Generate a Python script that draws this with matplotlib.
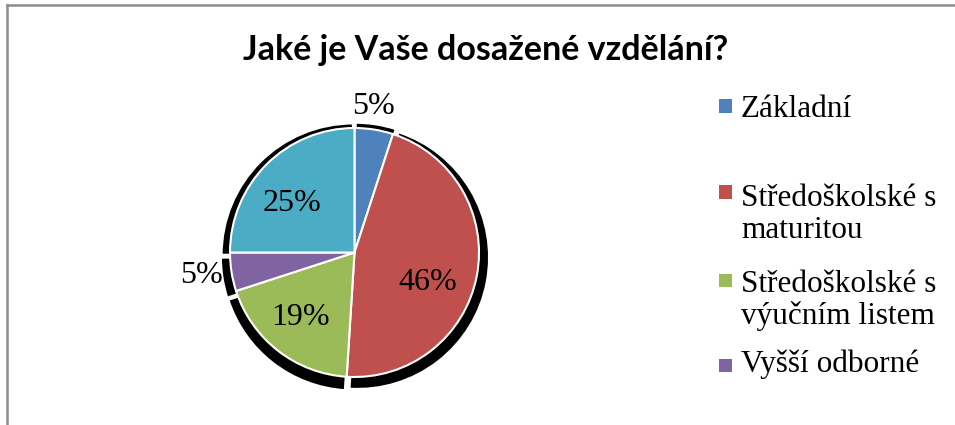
import numpy as np
import matplotlib
matplotlib.use("Agg")
import matplotlib.pyplot as plt
from matplotlib.patches import Wedge, Rectangle
from matplotlib.lines import Line2D

# ---- data ----
title = "Jaké je Vaše dosažené vzdělání?"
categories = ["Základní", "Středoškolské s maturitou", "Středoškolské s výučním listem",
              "Vyšší odborné", "Vysokoškolské"]
values = [5, 46, 19, 5, 25]
colors = ["#4F81BD", "#C0504D", "#9BBB59", "#8064A2", "#4BACC6"]
# legend lines as wrapped in the original (fifth entry is cut off by the frame)
legend_lines = [["Základní"], ["Středoškolské s", "maturitou"],
                ["Středoškolské s", "výučním listem"], ["Vyšší odborné"]]

W, H = 955, 425
fig = plt.figure(figsize=(W / 100, H / 100), dpi=100)

def fx(px):
    return px / W

def fy(py):
    return 1 - py / H

# frame
fig.add_artist(Line2D([fx(6.5), 1.0], [fy(5), fy(5)], color="#8c8c8c", lw=1.8))
fig.add_artist(Line2D([fx(6.5), fx(6.5)], [fy(5), 0], color="#8c8c8c", lw=1.8))

# title
fig.text(fx(485.5), fy(50), title, ha="center", va="center",
         fontsize=24.5, fontweight="bold", family="Lato")

# pie axes: center at (354.5, 252.5) px, radius 124.5 px
cx, cy, R = 354.5, 252.5, 124.5
half = 150
ax = fig.add_axes([fx(cx - half), fy(cy + half), 2 * half / W, 2 * half / H])
wedges, _ = ax.pie(values, colors=colors, startangle=90, counterclock=False,
                   radius=1, wedgeprops=dict(edgecolor="white", linewidth=1.5))
lim = half / R
ax.set_xlim(-lim, lim)
ax.set_ylim(-lim, lim)
ax.axis("off")

# shadow
for w in wedges:
    t1, t2 = w.theta1, w.theta2
    mid = np.deg2rad((t1 + t2) / 2)
    ox = 0.02 * np.cos(mid) + 0.004
    oy = 0.02 * np.sin(mid) - 0.035
    sh = Wedge((ox, oy), 1.06, t1, t2, facecolor="black", edgecolor="white",
               linewidth=2.0, zorder=0)
    ax.add_patch(sh)

# percentage labels
label_pos = [(1.18, 1.4), (0.64, -11.7), (0.68, -2.0), (1.24, -0.6), (0.64, 6.6)]
for w, v, (d, shift) in zip(wedges, values, label_pos):
    a = np.deg2rad((w.theta1 + w.theta2) / 2 + shift)
    ax.text(d * np.cos(a), d * np.sin(a), f"{v}%", ha="center", va="center",
            fontsize=23, family="Liberation Serif", color="black", zorder=5)

# legend
marker_y = [106, 192, 280, 365]
line_base = [[117], [206, 238], [292, 324], [372]]
for w, lines, my, bases in zip(wedges, legend_lines, marker_y, line_base):
    fig.add_artist(Rectangle((fx(718.5), fy(my + 6.5)), 13 / W, 13 / H,
                             facecolor=w.get_facecolor(), edgecolor="none"))
    for ln, b in zip(lines, bases):
        fig.text(fx(741), fy(b), ln, ha="left", va="baseline",
                 fontsize=22.5, family="Liberation Serif")

fig.savefig("out.png", dpi=100)
